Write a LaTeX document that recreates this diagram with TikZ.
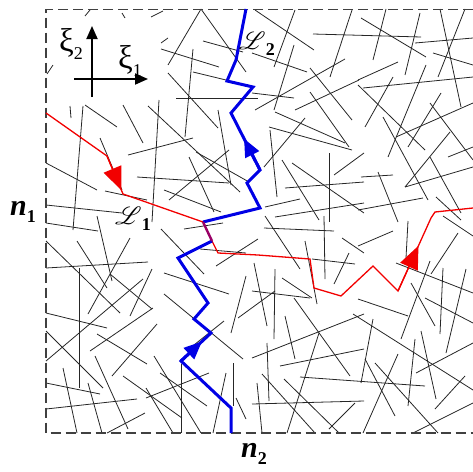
\documentclass[tikz,border=0pt]{standalone}
\usepackage{fontspec}
\setmainfont{Liberation Serif}
\usepackage{mathrsfs}
\usetikzlibrary{arrows.meta,calc}
\tikzset{
  fiber/.style={draw=black!85, line width=0.8pt},
  frame/.style={draw=black!75, line width=1.4pt, dash pattern=on 10pt off 5pt},
  redpath/.style={draw=red!95!black, line width=1.3pt, line join=miter},
  bluepath/.style={draw=blue!90!black, line width=3pt, line join=miter},
  mixpath/.style={draw=violet!80!red, line width=2.4pt},
  redtip/.style={draw=red!95!black, -{Triangle[length=23pt,width=19pt]}, line width=1.3pt},
  bluetip/.style={draw=blue!90!black, -{Triangle[length=18pt,width=15pt]}, line width=3pt},
  axis/.style={draw=black, line width=1.8pt, -{Triangle[length=13pt,width=11pt]}},
  lbl/.style={inner sep=0pt, font=\fontsize{24}{24}\selectfont},
  biglbl/.style={inner sep=0pt, font=\fontsize{33}{33}\selectfont},
  nlbl/.style={inner sep=0pt, font=\fontsize{30}{30}\selectfont},
}
\newcommand{\subs}[1]{\raisebox{-0.25em}{\fontsize{18}{18}\selectfont #1}}
\begin{document}
\begin{tikzpicture}[x=1pt,y=-1pt]
\useasboundingbox (0,0) rectangle (473,471);
% fibers
\foreach \a/\b/\c/\d in {
85/16/90/10, 122/13/125/18, 151/17/163/11, 47/74/53/65, 161/43/168/38,
201/9/168/65, 201/9/246/72, 161/49/219/67, 203/41/243/52, 193/49/185/137,
193/72/226/80, 168/73/218/128, 176/98/258/98, 255/10/314/50, 295/10/274/67,
313/34/421/37, 352/10/330/77, 252/53/307/72, 294/45/274/110, 345/59/255/110,
252/93/294/98, 310/68/352/120, 295/110/359/80, 310/92/349/147, 275/112/345/143,
269/127/352/150, 305/118/264/167, 270/130/277/197, 329/153/329/222, 282/160/319/220,
292/163/364/213, 334/175/364/153, 285/188/364/182, 265/207/300/199, 275/217/364/203,
386/9/373/60, 361/18/426/57, 420/13/405/75, 415/43/473/38, 440/9/461/107,
465/9/438/77, 433/53/473/65, 358/80/398/62, 363/88/473/77, 393/77/365/127,
358/85/425/150, 426/65/388/157, 441/93/408/147, 430/103/473/160, 473/103/396/137,
383/117/428/200, 450/132/405/187, 473/167/405/187, 448/157/473/147, 430/157/461/213,
361/177/393/175, 378/172/398/222, 358/210/423/198, 436/197/461/220,
70/106/71/118, 83/106/73/230, 85/105/117/127, 123/105/143/143, 100/138/122/190,
46/163/97/190, 46/205/122/213, 105/191/147/200, 128/155/193/138, 137/177/229/183,
148/106/240/192, 159/100/152/222, 218/110/231/185, 196/152/249/182, 169/200/229/150,
189/157/214/212, 164/190/221/212, 46/223/98/231, 97/216/112/281,
184/229/223/223, 161/229/204/274, 216/266/258/239, 164/273/229/294, 164/294/243/359,
224/321/189/349, 246/276/231/333, 154/356/201/433, 146/398/209/373, 181/364/181/433,
226/373/213/433, 233/363/233/406, 236/398/246/419, 146/388/173/433, 46/241/120/313,
77/241/107/288, 130/238/88/314, 46/268/148/262, 79/268/79/388, 152/269/130/316,
110/274/152/309, 46/313/107/328, 46/331/103/388, 143/279/46/361, 90/351/153/308,
97/334/147/364, 112/376/157/324, 46/383/100/394, 63/368/77/433, 88/383/102/433,
95/356/128/429, 46/409/137/399, 107/433/145/413, 123/376/182/418, 160/373/207/406,
265/216/300/269, 264/228/334/231, 324/216/325/279, 342/238/364/253, 349/253/334/284,
312/259/355/264, 305/241/317/304, 282/278/312/298, 252/291/310/298, 254/263/267/326,
275/269/274/339, 294/298/350/376, 285/316/295/359, 364/314/252/358, 319/333/287/433,
267/343/269/401, 364/349/280/366, 300/377/425/386, 257/383/262/433, 262/374/315/433,
284/379/339/433, 252/404/364/401, 329/429/355/403, 358/246/393/231, 408/221/406/258,
443/216/473/236, 458/233/431/274, 396/263/473/293, 430/261/401/339, 443/268/440/334,
466/269/446/353, 358/299/408/316, 425/298/473/323, 411/283/435/326, 353/314/473/390,
373/319/361/383, 415/339/408/406, 421/331/436/399, 473/343/416/373, 365/359/395/416,
375/363/438/433, 398/354/363/433, 465/376/435/409, 473/403/413/433, 238/318/275/291,
200/249/246/253}
  \draw[fiber] (\a,\b) -- (\c,\d);
% frame
\draw[frame] (473,9.5) -- (46,9.5) -- (46,433) -- (473,433);
% axes
\draw[axis] (92,97) -- (92,26);
\draw[axis] (74,79) -- (148,79);
\node[biglbl] (xi2) at (71,44) {ξ\subs{2}};
\node[biglbl] (xi1) at (130,61) {ξ\subs{1}};
% red path L1
\coordinate (r0) at (46,113);
\coordinate (r1) at (107,156);
\coordinate (r2) at (123,194);
\coordinate (r3) at (203,222);
\coordinate (r4) at (212,241);
\coordinate (r5) at (218,253);
\coordinate (r6) at (258,255);
\coordinate (r7) at (310,259);
\coordinate (r8) at (314,288);
\coordinate (r9) at (341,296);
\coordinate (r10) at (373,266);
\coordinate (r11) at (398,291);
\coordinate (r12) at (431,218);
\coordinate (r13) at (435,212);
\coordinate (r14) at (473,208);
\draw[redpath] (r0) -- (r1) -- (r2) -- (r3);
\draw[redpath] (r4) -- (r5) -- (r6) -- (r7) -- (r8) -- (r9) -- (r10) -- (r11) -- (r12) -- (r13) -- (r14);
% blue path L2
\coordinate (b0) at (246,9);
\coordinate (b1) at (236,60);
\coordinate (b2) at (227,81);
\coordinate (b3) at (253,87);
\coordinate (b4) at (231,113);
\coordinate (b5) at (260,170);
\coordinate (b6) at (247,183);
\coordinate (b7) at (260,208);
\coordinate (b8) at (178,258);
\coordinate (b9) at (208,303);
\coordinate (b10) at (194,319);
\coordinate (b11) at (211,333);
\coordinate (b12) at (181,361);
\coordinate (b13) at (231,408);
\coordinate (b14) at (231,433);
\draw[bluepath] (b0) -- (b1) -- (b2) -- (b3) -- (b4) -- (b5) -- (b6) -- (b7) -- (r3);
\draw[bluepath] (r4) -- (b8) -- (b9) -- (b10) -- (b11) -- (b12) -- (b13) -- (b14);
\draw[mixpath] (r3) -- (r4);
% arrow heads
\draw[redtip] (r1) -- ($(r1)!0.9!(r2)$);
\draw[redtip] (r11) -- ($(r11)!0.62!(r12)$);
\draw[bluetip] (b5) -- ($(b5)!0.55!(b4)$);
\draw[bluetip] (b12) -- ($(b12)!0.7!(b11)$);
% labels
\node[lbl] (L1) at (133,219) {$\mathscr{L}$\subs{\bfseries 1}};
\node[lbl] (L2) at (257,44) {$\mathscr{L}$\subs{\bfseries 2}};
\node[nlbl] (n1) at (23,212) {\bfseries\itshape n\subs{\upshape 1}};
\node[nlbl] (n2) at (254,454) {\bfseries\itshape n\subs{\upshape 2}};
\end{tikzpicture}
\end{document}
